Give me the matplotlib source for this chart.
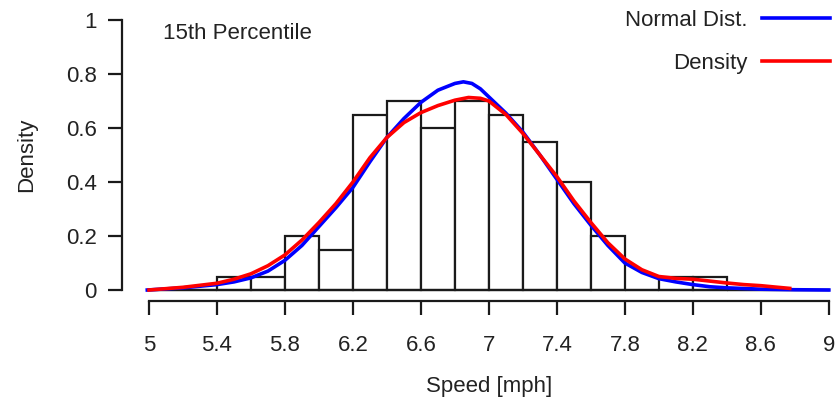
import numpy as np
import matplotlib.pyplot as plt
from matplotlib.lines import Line2D

plt.rcParams['font.family'] = ['Liberation Sans', 'DejaVu Sans']

# histogram of speeds, bins of 0.2 mph
bin_edges = [5.0, 5.2, 5.4, 5.6, 5.8, 6.0, 6.2, 6.4, 6.6, 6.8, 7.0, 7.2, 7.4,
             7.6, 7.8, 8.0, 8.2, 8.4, 8.6, 8.8, 9.0]
bin_heights = [0.0, 0.0, 0.05, 0.05, 0.2, 0.15, 0.65, 0.7, 0.6, 0.7, 0.65,
               0.55, 0.4, 0.2, 0.0, 0.05, 0.05, 0.0, 0.0, 0.0]

# fitted normal curve
norm_x = [4.99, 5.2, 5.4, 5.5, 5.6, 5.7, 5.8, 5.9, 6.0, 6.1, 6.2, 6.3, 6.4,
          6.5, 6.6, 6.7, 6.8, 6.85, 6.9, 6.95, 7.0, 7.1, 7.2, 7.3, 7.4, 7.5,
          7.6, 7.7, 7.8, 7.9, 8.0, 8.1, 8.2, 8.3, 8.4, 8.6, 8.8, 9.0]
norm_y = [0.0, 0.008, 0.02, 0.03, 0.045, 0.07, 0.11, 0.165, 0.235, 0.305,
          0.38, 0.475, 0.565, 0.635, 0.695, 0.74, 0.765, 0.771, 0.765, 0.745,
          0.715, 0.655, 0.585, 0.5, 0.41, 0.32, 0.24, 0.165, 0.1, 0.065,
          0.042, 0.03, 0.02, 0.012, 0.008, 0.003, 0.001, 0.0]

# kernel density estimate
dens_x = [5.0, 5.2, 5.4, 5.5, 5.6, 5.7, 5.8, 5.9, 6.0, 6.1, 6.2, 6.3, 6.4,
          6.5, 6.6, 6.7, 6.8, 6.88, 6.95, 7.0, 7.1, 7.2, 7.3, 7.4, 7.5, 7.6,
          7.7, 7.8, 7.9, 8.0, 8.1, 8.2, 8.3, 8.4, 8.5, 8.6, 8.7, 8.77]
dens_y = [0.0, 0.01, 0.025, 0.04, 0.06, 0.09, 0.13, 0.185, 0.25, 0.32, 0.40,
          0.49, 0.565, 0.62, 0.657, 0.683, 0.703, 0.713, 0.71, 0.70, 0.65,
          0.58, 0.50, 0.42, 0.33, 0.25, 0.175, 0.115, 0.075, 0.05, 0.043,
          0.04, 0.033, 0.026, 0.02, 0.016, 0.01, 0.006]

xticks = [5, 5.4, 5.8, 6.2, 6.6, 7, 7.4, 7.8, 8.2, 8.6, 9]
xticklabels = ['5', '5.4', '5.8', '6.2', '6.6', '7', '7.4', '7.8', '8.2', '8.6', '9']
yticks = [0, 0.2, 0.4, 0.6, 0.8, 1]
yticklabels = ['0', '0.2', '0.4', '0.6', '0.8', '1']

fs = 16
tc = '#222222'

fig = plt.figure(figsize=(8.38, 4.03), dpi=100)
ax = fig.add_axes([121.8/838, 102.2/403, (856-121.8)/838, (393.8-102.2)/403])

edges = np.array(bin_edges)
ax.bar(edges[:-1], bin_heights, width=np.diff(edges), align='edge',
       color='white', edgecolor='#1a1a1a', linewidth=1.6, zorder=1)
# baseline under the bars
ax.plot([edges[0], edges[-1]], [0, 0], color='#1a1a1a', lw=1.6, zorder=1)

ax.plot(dens_x, dens_y, color='#ff0000', lw=2.6, zorder=3)
ax.plot(norm_x, norm_y, color='#0000ff', lw=2.6, zorder=2)

ax.set_xlim(4.84, 9.16)
ax.set_ylim(-0.04, 1.04)

for s in ['top', 'right']:
    ax.spines[s].set_visible(False)
ax.spines['left'].set_bounds(0, 1)
ax.spines['bottom'].set_bounds(5, 9)
for s in ['left', 'bottom']:
    ax.spines[s].set_linewidth(1.6)
    ax.spines[s].set_color('#1a1a1a')

ax.set_xticks(xticks)
ax.set_xticklabels(xticklabels)
ax.set_yticks(yticks)
ax.set_yticklabels(yticklabels)
ax.tick_params(axis='both', length=10, width=1.6, color='#1a1a1a',
               labelsize=fs, labelcolor=tc)
ax.tick_params(axis='x', pad=14.5)
ax.tick_params(axis='y', pad=8)

ax.set_xlabel('Speed [mph]', fontsize=fs, color=tc, labelpad=14.5)
ax.set_ylabel('Density', fontsize=fs, color=tc, labelpad=21)

ax.text(5.08, 0.95, '15th Percentile', fontsize=fs, color=tc, va='center', ha='left')

handles = [Line2D([], [], color='#0000ff', lw=2.6),
           Line2D([], [], color='#ff0000', lw=2.6)]
leg = fig.legend(handles, ['Normal Dist.', 'Density'], loc='upper right',
                 bbox_to_anchor=(829.5/838, 1 - 10/403), frameon=False,
                 markerfirst=False, fontsize=fs, handlelength=3.05,
                 handletextpad=0.65, labelspacing=0.97, borderpad=0,
                 borderaxespad=0)
for t in leg.get_texts():
    t.set_color(tc)

fig.savefig('out.png', dpi=100)
